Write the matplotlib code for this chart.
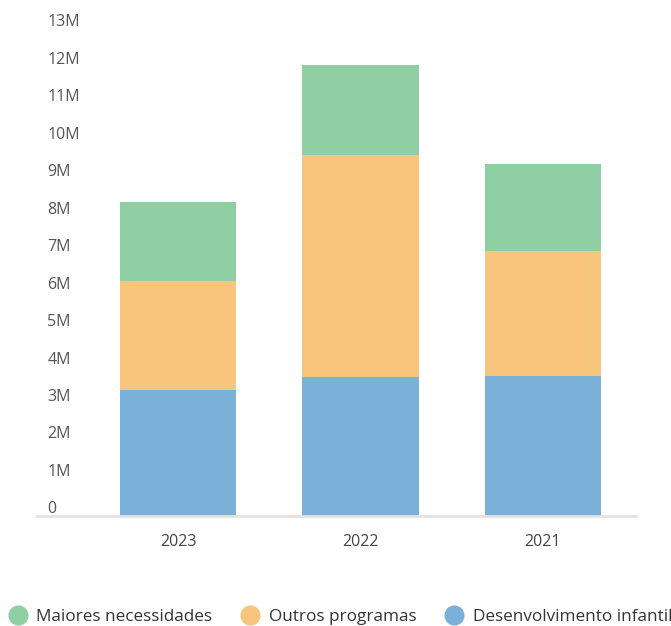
import matplotlib.pyplot as plt
import matplotlib.transforms as mtransforms
from matplotlib.lines import Line2D

plt.rcParams['font.family'] = ['Open Sans', 'DejaVu Sans']

# data (millions)
years = ['2023', '2022', '2021']
desenvolvimento = [3.36, 3.71, 3.74]
outros = [2.91, 5.93, 3.33]
maiores = [2.11, 2.40, 2.33]
yticks = list(range(0, 14))
ytick_labels = ['0'] + [f'{v}M' for v in yticks[1:]]

c_green = '#90cfa3'
c_orange = '#f7c57b'
c_blue = '#7bb1d8'

fig = plt.figure(figsize=(6.71, 6.26), dpi=100)
ax = fig.add_axes([37 / 671, 1 - 516 / 626, (636 - 37) / 671, (516 - 29) / 626])

x = range(len(years))
w = 0.636
bottom2 = [a + b for a, b in zip(desenvolvimento, outros)]
ax.bar(x, desenvolvimento, w, color=c_blue)
ax.bar(x, outros, w, bottom=desenvolvimento, color=c_orange)
ax.bar(x, maiores, w, bottom=bottom2, color=c_green)

ax.set_xlim(-0.773, 2.51)
ax.set_ylim(0, 13)

for s in ['top', 'right', 'left']:
    ax.spines[s].set_visible(False)
ax.spines['bottom'].set_color('#e2e2e2')
ax.spines['bottom'].set_linewidth(2)

ax.set_xticks(list(x))
ax.set_xticklabels(years, fontsize=11.5, color='#444444')
ax.tick_params(axis='x', length=0, pad=13)

ax.set_yticks(yticks)
ax.set_yticklabels(ytick_labels, fontsize=11.5, color='#555555', ha='left', va='bottom')
ax.tick_params(axis='y', length=0, pad=-7.5)
for lbl in ax.get_yticklabels():
    lbl.set_transform(lbl.get_transform() + mtransforms.ScaledTranslation(0, -1 / 72, fig.dpi_scale_trans))

handles = [
    Line2D([], [], marker='o', ls='', ms=13.5, color=c_green, label='Maiores necessidades'),
    Line2D([], [], marker='o', ls='', ms=13.5, color=c_orange, label='Outros programas'),
    Line2D([], [], marker='o', ls='', ms=13.5, color=c_blue, label='Desenvolvimento infantil'),
]
leg = fig.legend(handles=handles, loc='center left', bbox_to_anchor=(9 / 671, 1 - 617 / 626),
                 ncol=3, frameon=False, fontsize=12.3, handletextpad=0.55,
                 columnspacing=1.7, handlelength=1.05, borderaxespad=0, borderpad=0)
for t in leg.get_texts():
    t.set_color('#333333')

fig.savefig('out.png', dpi=100)
